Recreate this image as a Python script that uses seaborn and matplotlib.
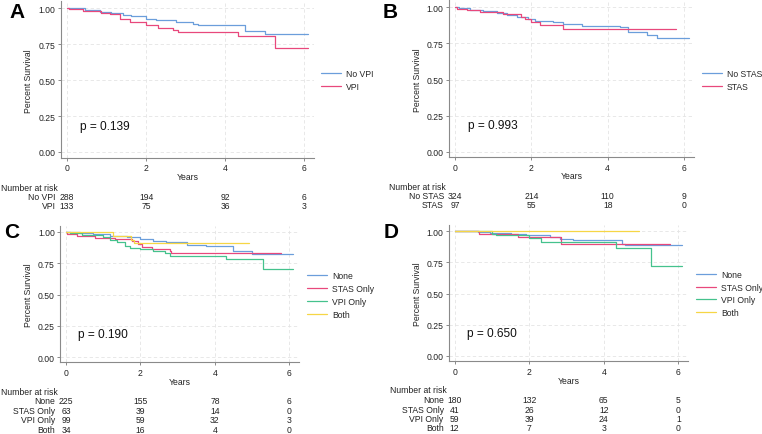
import matplotlib
matplotlib.use("Agg")
import matplotlib.pyplot as plt
import seaborn as sns
import pandas as pd
from matplotlib.transforms import blended_transform_factory

# ---------------- data ----------------
risk_times = [0, 2, 4, 6]

# Panel A
A_groups = ["No VPI", "VPI"]
A_noVPI_t = [0, 0.45, 0.83, 1.1, 1.41, 1.63, 2.0, 2.26, 2.76, 3.18, 3.3, 4.5, 5.0, 6.1]
A_noVPI_s = [1.0, 0.99, 0.975, 0.965, 0.955, 0.945, 0.928, 0.92, 0.905, 0.89, 0.882, 0.84, 0.82, 0.82]
A_VPI_t = [0, 0.05, 0.41, 0.87, 1.08, 1.34, 1.59, 2.0, 2.3, 2.68, 2.8, 4.33, 5.25, 6.1]
A_VPI_s = [1.0, 0.993, 0.98, 0.968, 0.958, 0.925, 0.905, 0.885, 0.865, 0.848, 0.835, 0.81, 0.727, 0.727]
A_risk = [[288, 194, 92, 6], [133, 75, 36, 3]]
A_p = "p = 0.139"

# Panel B
B_groups = ["No STAS", "STAS"]
B_noSTAS_t = [0, 0.1, 0.39, 0.74, 1.09, 1.35, 1.62, 1.92, 2.09, 2.57, 2.84, 3.32, 4.32, 4.53, 5.03, 5.3, 6.13]
B_noSTAS_s = [1.0, 0.993, 0.983, 0.972, 0.96, 0.947, 0.935, 0.919, 0.907, 0.9, 0.884, 0.873, 0.862, 0.827, 0.81, 0.785, 0.785]
B_STAS_t = [0, 0.05, 0.31, 0.65, 1.27, 1.72, 1.84, 2.0, 2.24, 2.83, 5.8]
B_STAS_s = [1.0, 0.99, 0.981, 0.965, 0.954, 0.935, 0.92, 0.895, 0.877, 0.85, 0.85]
B_risk = [[324, 214, 110, 9], [97, 55, 18, 0]]
B_p = "p = 0.993"

# Panel C
CD_groups = ["None", "STAS Only", "VPI Only", "Both"]
C_none_t = [0, 0.38, 0.73, 1.18, 1.63, 1.98, 2.34, 2.7, 3.24, 3.77, 4.48, 5.0, 6.1]
C_none_s = [1.0, 0.99, 0.984, 0.97, 0.957, 0.944, 0.926, 0.918, 0.899, 0.89, 0.846, 0.827, 0.827]
C_stas_t = [0, 0.02, 0.29, 0.78, 1.31, 1.76, 1.94, 2.03, 2.3, 2.79, 2.83, 5.78]
C_stas_s = [1.0, 0.984, 0.97, 0.95, 0.946, 0.93, 0.904, 0.883, 0.864, 0.846, 0.83, 0.83]
C_vpi_t = [0, 0.1, 0.42, 1.0, 1.18, 1.36, 1.58, 1.72, 1.98, 2.34, 2.65, 2.79, 4.31, 5.28, 6.1]
C_vpi_s = [1.0, 0.99, 0.98, 0.96, 0.936, 0.918, 0.89, 0.872, 0.862, 0.851, 0.83, 0.811, 0.784, 0.704, 0.704]
C_both_t = [0, 1.27, 1.75, 1.82, 4.93]
C_both_s = [1.0, 0.97, 0.94, 0.91, 0.91]
C_risk = [[225, 155, 78, 6], [63, 39, 14, 0], [99, 59, 32, 3], [34, 16, 4, 0]]
C_p = "p = 0.190"

# Panel D
D_none_t = [0, 0.62, 0.95, 1.5, 1.9, 2.55, 2.82, 3.17, 4.5, 4.56, 6.1]
D_none_s = [1.0, 0.99, 0.985, 0.975, 0.965, 0.955, 0.94, 0.925, 0.9, 0.887, 0.887]
D_stas_t = [0, 0.66, 1.7, 2.84, 5.78]
D_stas_s = [1.0, 0.975, 0.95, 0.895, 0.895]
D_vpi_t = [0, 1.0, 1.12, 2.0, 2.31, 4.33, 5.28, 6.1]
D_vpi_s = [1.0, 0.98, 0.965, 0.945, 0.91, 0.865, 0.72, 0.72]
D_both_t = [0, 4.95]
D_both_s = [1.0, 1.0]
D_risk = [[180, 132, 65, 5], [41, 26, 12, 0], [59, 39, 24, 1], [12, 7, 3, 0]]
D_p = "p = 0.650"

# ---------------- style ----------------
BLUE = "#6b9edb"
PINK = "#e8487c"
GREEN = "#45c28d"
YELLOW = "#f6d645"

sns.set_theme(style="white")
plt.rcParams["font.family"] = ["Liberation Sans", "DejaVu Sans"]

W, H = 762, 435
fig = plt.figure(figsize=(W / 100, H / 100), dpi=100)
XL = (-0.15, 6.25)
YL = (-0.04, 1.05)
FS = 6.2


def make_df(groups, ts, ss):
    rows = []
    for g, t, s in zip(groups, ts, ss):
        rows.append(pd.DataFrame({"Years": t, "Surv": s, "Group": g}))
    return pd.concat(rows, ignore_index=True)


def panel(letter, x0, x6, y1, y0, groups, ts, ss, colors, risk, ptxt,
          letter_xy, yl_x, years_y, nar_x, nar_y, row_ys, leg_x, leg_y):
    ppy = (x6 - x0) / 6.0
    ppu = y0 - y1
    left = x0 + XL[0] * ppy
    right = x0 + XL[1] * ppy
    top = y0 - YL[1] * ppu
    bottom = y0 - YL[0] * ppu
    ax = fig.add_axes([left / W, 1 - bottom / H, (right - left) / W, (bottom - top) / H])
    df = make_df(groups, ts, ss)
    sns.lineplot(data=df, x="Years", y="Surv", hue="Group", hue_order=groups,
                 palette=dict(zip(groups, colors)), drawstyle="steps-post",
                 estimator=None, sort=False, linewidth=0.9, ax=ax)
    ax.set_xlim(*XL)
    ax.set_ylim(*YL)
    ax.set_xticks([0, 2, 4, 6])
    ax.set_yticks([0, 0.25, 0.5, 0.75, 1.0])
    ax.set_yticklabels(["0.00", "0.25", "0.50", "0.75", "1.00"])
    ax.set_xlabel("")
    ax.set_ylabel("")
    ax.grid(True, linestyle=(0, (4, 3)), color="#e4e4e4", linewidth=0.6)
    for s in ["top", "right"]:
        ax.spines[s].set_visible(False)
    for s in ["left", "bottom"]:
        ax.spines[s].set_color("#8a8a8a")
        ax.spines[s].set_linewidth(0.8)
    ax.tick_params(axis="both", which="major", labelsize=FS, length=2.5, width=0.7,
                   color="#8a8a8a", pad=1.5, labelcolor="#222222", left=True, bottom=True)
    ax.set_facecolor("white")

    handles, labels = ax.get_legend_handles_labels()
    if ax.get_legend() is not None:
        ax.get_legend().remove()
    ax.legend(handles, labels, loc="center left",
              bbox_to_anchor=(leg_x / W, 1 - leg_y / H), bbox_transform=fig.transFigure,
              frameon=False, fontsize=FS, handlelength=2.3, handletextpad=0.6,
              labelspacing=0.45, borderpad=0, borderaxespad=0)

    ax.text(0.075, 0.205, ptxt, transform=ax.transAxes, fontsize=8.6,
            ha="left", va="center", color="#111111")

    fig.text(letter_xy[0] / W, 1 - letter_xy[1] / H, letter, fontsize=15,
             fontweight="bold", ha="left", va="top", color="black")
    fig.text(yl_x / W, 1 - ((y0 + y1) / 2) / H, "Percent Survival", rotation=90,
             fontsize=FS, ha="center", va="center", color="#222222")
    fig.text(((left + right) / 2) / W, 1 - years_y / H, "Years", fontsize=FS,
             ha="center", va="center", color="#222222")
    fig.text(nar_x / W, 1 - nar_y / H, "Number at risk", fontsize=FS,
             ha="left", va="center", color="#222222")
    tr = blended_transform_factory(ax.transData, fig.transFigure)
    lab_x = -11.0 / ppy
    for g, counts, yy in zip(groups, risk, row_ys):
        ax.text(lab_x, 1 - yy / H, g, transform=tr, fontsize=FS, ha="right",
                va="center", clip_on=False, color="#222222")
        for t, c in zip(risk_times, counts):
            ax.text(t, 1 - yy / H, str(c), transform=tr, fontsize=FS, ha="center",
                    va="center", clip_on=False, color="#222222")
    return ax


panel("A", 67, 304.3, 9.3, 153, A_groups, [A_noVPI_t, A_VPI_t], [A_noVPI_s, A_VPI_s],
      [BLUE, PINK], A_risk, A_p, (9, 3), 28.5, 178, 1, 189, [198, 206.7], 321, 81)
panel("B", 455, 684, 8.3, 152.7, B_groups, [B_noSTAS_t, B_STAS_t], [B_noSTAS_s, B_STAS_s],
      [BLUE, PINK], B_risk, B_p, (383, 3), 417, 176.7, 389, 187.3, [196.7, 206], 702, 80.7)
panel("C", 66, 289.3, 233, 358.3, CD_groups, [C_none_t, C_stas_t, C_vpi_t, C_both_t],
      [C_none_s, C_stas_s, C_vpi_s, C_both_s], [BLUE, PINK, GREEN, YELLOW], C_risk, C_p,
      (4, 223), 28.5, 382.7, 1, 392.7, [401.3, 411.3, 421, 430.3], 307, 296)
panel("D", 454.7, 678.3, 232, 357, CD_groups, [D_none_t, D_stas_t, D_vpi_t, D_both_t],
      [D_none_s, D_stas_s, D_vpi_s, D_both_s], [BLUE, PINK, GREEN, YELLOW], D_risk, D_p,
      (384, 223), 417, 381.3, 390, 391, [401, 410.3, 419.3, 428.7], 696, 294.5)

fig.savefig("out.png", dpi=100, facecolor="white")
